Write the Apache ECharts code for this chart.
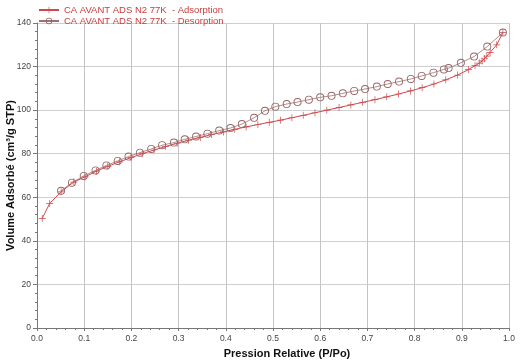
<!DOCTYPE html>
<html>
<head>
<meta charset="utf-8">
<script src="https://cdn.jsdelivr.net/npm/echarts@6/dist/echarts.min.js"></script>
<style>
    html, body { margin: 0; padding: 0; background: #fff; }
    #chart { width: 520px; height: 362px; }
</style>
</head>
<body>
<div id="chart"></div>
<script>
// isotherme N2 77K
var adsX = [0.011, 0.027, 0.051, 0.078, 0.102, 0.126, 0.150, 0.175, 0.199, 0.223, 0.248, 0.272, 0.297, 0.321, 0.346, 0.370, 0.395, 0.419, 0.443, 0.468, 0.492, 0.516, 0.540, 0.564, 0.589, 0.614, 0.640, 0.665, 0.690, 0.716, 0.741, 0.766, 0.791, 0.816, 0.841, 0.866, 0.891, 0.914, 0.928, 0.937, 0.943, 0.948, 0.953, 0.960, 0.974, 0.987];
var adsY = [50.3, 57.2, 62.5, 67.0, 69.4, 72.0, 74.2, 76.3, 78.2, 80.0, 81.7, 83.3, 84.8, 86.2, 87.5, 88.8, 90.0, 91.2, 92.3, 93.4, 94.4, 95.4, 96.5, 97.6, 98.8, 100.0, 101.2, 102.4, 103.6, 104.8, 106.1, 107.4, 108.8, 110.3, 112.0, 113.9, 116.1, 118.6, 120.4, 121.6, 122.6, 123.7, 124.8, 126.5, 130.0, 135.6];

var desX = [0.987, 0.954, 0.926, 0.898, 0.872, 0.862, 0.840, 0.815, 0.792, 0.767, 0.743, 0.720, 0.695, 0.672, 0.648, 0.624, 0.600, 0.576, 0.552, 0.529, 0.505, 0.483, 0.460, 0.434, 0.410, 0.386, 0.361, 0.337, 0.313, 0.290, 0.265, 0.242, 0.218, 0.194, 0.171, 0.147, 0.124, 0.099, 0.074, 0.051];
var desY = [135.6, 129.2, 124.6, 121.7, 119.3, 118.7, 117.2, 115.7, 114.3, 113.1, 112.0, 110.8, 109.7, 108.8, 107.7, 106.6, 105.9, 104.8, 103.7, 102.8, 101.6, 99.7, 96.5, 93.6, 91.8, 90.6, 89.2, 87.9, 86.6, 85.1, 83.9, 82.2, 80.5, 78.7, 76.7, 74.6, 72.3, 69.8, 66.7, 63.0];

var seriesNames = ['CA AVANT ADS N2 77K  - Adsorption', 'CA AVANT ADS N2 77K  - Desorption'];

function pairs(xs, ys) {
    var out = [];
    for (var i = 0; i < xs.length; i++) {
        out.push([xs[i], ys[i]]);
    }
    return out;
}

var chartDom = document.getElementById('chart');
var myChart = echarts.init(chartDom);
var font = 'Liberation Sans, Arial, sans-serif';

// croix fine et anneau fin (symboles de l'appareil)
var plusPath = 'path://M4.5,0h1v10h-1zM0,4.5h10v1h-10z';
var ringPath = 'path://M0,5a5,5 0 1,0 10,0a5,5 0 1,0 -10,0z M1.1,5a3.9,3.9 0 1,1 7.8,0a3.9,3.9 0 1,1 -7.8,0z';

var option = {
    animation: false,
    textStyle: { fontFamily: font },
    legend: {
        orient: 'vertical',
        left: 38,
        top: 5,
        padding: 0,
        itemWidth: 20,
        itemHeight: 8,
        itemGap: 1,
        textStyle: { color: '#c83c3c', fontSize: 9.5, lineHeight: 9, fontFamily: font },
        data: seriesNames
    },
    grid: {
        left: 37,
        right: 11,
        top: 23,
        bottom: 34,
        outerBoundsMode: 'none'
    },
    xAxis: {
        type: 'value',
        min: 0,
        max: 1,
        interval: 0.1,
        name: 'Pression Relative (P/Po)',
        nameLocation: 'middle',
        nameGap: 20,
        nameMoveOverlap: false,
        nameTextStyle: { fontWeight: 'bold', fontSize: 11, color: '#111', padding: [0, 0, 0, 28] },
        axisLine: { lineStyle: { color: '#777' } },
        axisTick: { length: 3, lineStyle: { color: '#777' } },
        minorTick: { show: true, splitNumber: 5, length: 2, lineStyle: { color: '#777' } },
        axisLabel: {
            fontSize: 8.5,
            color: '#444',
            margin: 6,
            formatter: function (v) { return v.toFixed(1); }
        },
        splitLine: { show: true, lineStyle: { color: '#c4c4c4' } }
    },
    yAxis: {
        type: 'value',
        min: 0,
        max: 140,
        interval: 20,
        name: 'Volume Adsorbé (cm³/g STP)',
        nameLocation: 'middle',
        nameGap: 21,
        nameMoveOverlap: false,
        nameTextStyle: { fontWeight: 'bold', fontSize: 11, color: '#111' },
        axisLine: { show: true, lineStyle: { color: '#777' } },
        axisTick: { show: true, length: 4, lineStyle: { color: '#777' } },
        minorTick: { show: true, splitNumber: 5, length: 2, lineStyle: { color: '#777' } },
        axisLabel: { fontSize: 8.5, color: '#444', margin: 6 },
        splitLine: { show: true, lineStyle: { color: '#cfcfcf' } }
    },
    series: [
        {
            name: seriesNames[0],
            type: 'line',
            data: pairs(adsX, adsY),
            symbol: plusPath,
            symbolSize: 7,
            lineStyle: { color: '#d0484c', width: 1 },
            itemStyle: { color: '#d0484c' },
            z: 3
        },
        {
            name: seriesNames[1],
            type: 'line',
            data: pairs(desX, desY),
            symbol: ringPath,
            symbolSize: 8,
            lineStyle: { color: '#a07070', width: 0.8 },
            itemStyle: { color: '#966464' },
            z: 4
        }
    ]
};
option && myChart.setOption(option);
</script>
</body>
</html>
